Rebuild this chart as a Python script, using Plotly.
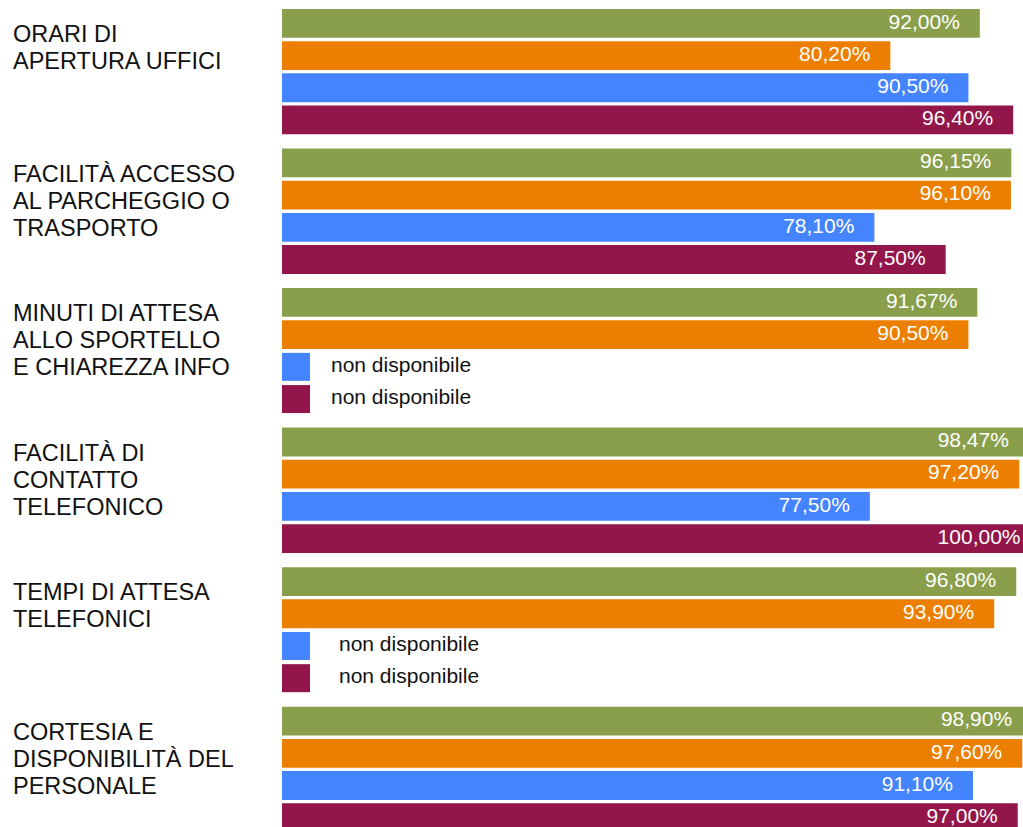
import plotly.graph_objects as go

# Survey indicators, one label line per entry
categories = [
    ["ORARI DI", "APERTURA UFFICI"],
    ["FACILITÀ ACCESSO", "AL PARCHEGGIO O", "TRASPORTO"],
    ["MINUTI DI ATTESA", "ALLO SPORTELLO", "E CHIAREZZA INFO"],
    ["FACILITÀ DI", "CONTATTO", "TELEFONICO"],
    ["TEMPI DI ATTESA", "TELEFONICI"],
    ["CORTESIA E", "DISPONIBILITÀ DEL", "PERSONALE"],
]

# Satisfaction percentages per series (None = non disponibile)
serie_verde = [92.00, 96.15, 91.67, 98.47, 96.80, 98.90]
serie_arancio = [80.20, 96.10, 90.50, 97.20, 93.90, 97.60]
serie_blu = [90.50, 78.10, None, 77.50, None, 91.10]
serie_viola = [96.40, 87.50, None, 100.00, None, 97.00]

NA_TEXT = "non disponibile"

series = [
    ("verde", serie_verde, "#8a9f4b"),
    ("arancio", serie_arancio, "#ec7f00"),
    ("blu", serie_blu, "#4484ff"),
    ("viola", serie_viola, "#93164b"),
]

# Geometry (pixels) of the drawing
W, H = 1023, 827
PLOT_LEFT = 282
PX_PER_PCT = 7.585
X_MAX = (W - PLOT_LEFT) / PX_PER_PCT
BAND_PX = 139.55
FIRST_CENTER_PX = 71.66
BARGAP = 0.077
BARGROUPGAP = 0.106
SLOT = (1 - BARGAP) / len(series)

FONT = "Liberation Sans, Arial, Helvetica, sans-serif"
LABEL_PAD_PX = 20
NA_SQUARE_PX = 28
NA_TEXT_LEFT_PX = {2: 331, 4: 339}

idx = list(range(len(categories)))


def fmt(v):
    return f"{v:.2f}".replace(".", ",") + "%"


fig = go.Figure()

for j, (name, vals, color) in enumerate(series):
    fig.add_trace(go.Bar(
        name=name, orientation="h", y=idx, x=vals,
        marker=dict(color=color, line=dict(width=0)),
        hoverinfo="skip", showlegend=False,
    ))

# value labels, right-aligned inside the bar end
for j, (name, vals, color) in enumerate(series):
    xs, ys, ts = [], [], []
    for i, v in enumerate(vals):
        if v is None:
            continue
        xs.append(v - LABEL_PAD_PX / PX_PER_PCT)
        ys.append(i + (j - 1.5) * SLOT)
        ts.append(fmt(v))
    fig.add_trace(go.Scatter(
        x=xs, y=ys, text=ts, mode="text", textposition="middle left",
        textfont=dict(family=FONT, size=21, color="white"),
        cliponaxis=True, hoverinfo="skip", showlegend=False,
    ))

# placeholders for missing values
na_x, na_y, na_c = [], [], []
na_tx, na_ty = [], []
for j, (name, vals, color) in enumerate(series):
    for i, v in enumerate(vals):
        if v is None:
            na_x.append((NA_SQUARE_PX / 2) / PX_PER_PCT)
            na_y.append(i + (j - 1.5) * SLOT)
            na_c.append(color)
            na_tx.append((NA_TEXT_LEFT_PX.get(i, 335) - PLOT_LEFT) / PX_PER_PCT)
            na_ty.append(i + (j - 1.5) * SLOT)
fig.add_trace(go.Scatter(
    x=na_x, y=na_y, mode="markers",
    marker=dict(symbol="square", size=NA_SQUARE_PX, color=na_c, line=dict(width=0)),
    cliponaxis=False, hoverinfo="skip", showlegend=False,
))
fig.add_trace(go.Scatter(
    x=na_tx, y=na_ty, text=[NA_TEXT] * len(na_tx), mode="text",
    textposition="middle right",
    textfont=dict(family=FONT, size=21, color="#111111"),
    cliponaxis=False, hoverinfo="skip", showlegend=False,
))

# category labels, one annotation per line
LINE_PX = 27.0
FIRST_LINE_OFFSET_PX = -37.66
LABEL_LEFT_PX = 11
annotations = []
for i, lines in enumerate(categories):
    for k, line in enumerate(lines):
        annotations.append(dict(
            text=line, xref="paper", yref="y",
            x=(LABEL_LEFT_PX - PLOT_LEFT) / (W - PLOT_LEFT), xanchor="left",
            y=i + (FIRST_LINE_OFFSET_PX + LINE_PX * k) / BAND_PX, yanchor="middle",
            showarrow=False, align="left",
            font=dict(family=FONT, size=23.5, color="#111111"),
        ))

y_top = -FIRST_CENTER_PX / BAND_PX
y_bottom = (H - FIRST_CENTER_PX) / BAND_PX

fig.update_layout(
    width=W, height=H,
    margin=dict(l=PLOT_LEFT, r=0, t=0, b=0),
    paper_bgcolor="white", plot_bgcolor="white",
    barmode="group", bargap=BARGAP, bargroupgap=BARGROUPGAP,
    xaxis=dict(range=[0, X_MAX], visible=False, fixedrange=True),
    yaxis=dict(range=[y_bottom, y_top], visible=False, fixedrange=True),
    annotations=annotations,
    showlegend=False,
)

fig.write_html("out.html", config={"displayModeBar": False})
